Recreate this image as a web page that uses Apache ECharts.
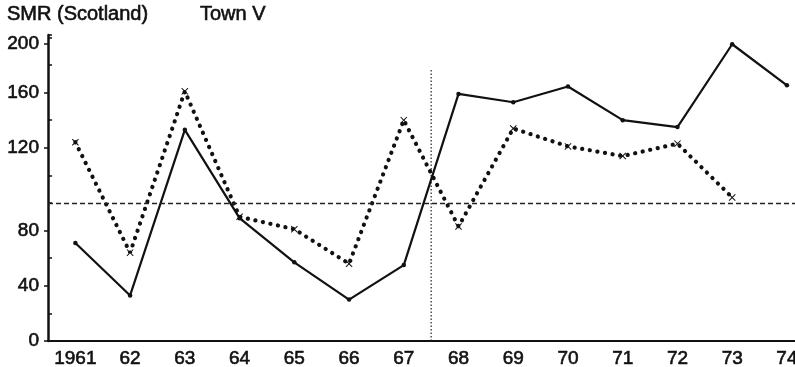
<!DOCTYPE html>
<html>
<head>
<meta charset="utf-8">
<title>SMR (Scotland) – Town V</title>
<script src="https://cdn.jsdelivr.net/npm/echarts@6/dist/echarts.min.js"></script>
<style>
  html, body { margin: 0; padding: 0; background: #fff; }
  #chart { width: 795px; height: 367px; }
</style>
</head>
<body>
<div id="chart"></div>
<script>
// Years along the bottom axis
const years = ['1961', '62', '63', '64', '65', '66', '67', '68', '69', '70', '71', '72', '73', '74'];

// Standardised mortality ratios (Scotland = 100)
const smrSolid  = [71, 33, 133, 89, 57, 30, 55, 159, 153, 165, 140, 135, 200, 166];
const smrDotted = [124, 64, 161, 90, 81, 56, 140, 83, 134, 121, 117, 123, 102];

// Printed tick labels on the SMR axis
const yTickLabels = [0, 40, 80, 120, 160, 200];

// Reference level and the break between 1967 and 1968
const referenceSMR = 100;
const dividerYear = 1967.5;
const dividerTopSMR = 180;

// The printed SMR axis is not evenly graduated: these knots map an SMR
// value onto the uniform drawing scale used by the value axis.
const smrKnots  = [0, 100, 120, 160, 200];
const axisKnots = [0, 100, 140, 180, 215];
const axisStep = 20;      // spacing of the plain tick marks
const axisTop = 221.7;    // end of the drawn axis line

function toAxis(v) {
  if (v == null) return null;
  for (let i = 1; i < smrKnots.length; i++) {
    if (v <= smrKnots[i] || i === smrKnots.length - 1) {
      const t = (v - smrKnots[i - 1]) / (smrKnots[i] - smrKnots[i - 1]);
      return axisKnots[i - 1] + t * (axisKnots[i] - axisKnots[i - 1]);
    }
  }
}

const labelPositions = yTickLabels.map(toAxis);
const plainTicks = [];
for (let v = axisStep; v < axisTop; v += axisStep) {
  if (!labelPositions.some(p => Math.abs(p - v) < 1)) plainTicks.push(v);
}
plainTicks.push(axisTop);

const firstYear = 1961;
const dividerX = (dividerYear - firstYear) + 0.5;

const FONT = 'Liberation Sans, Arial, Helvetica, sans-serif';
const INK = '#111';

// Slightly heavier than regular weight, like the printed lettering
const textInk = { fontFamily: FONT, fontWeight: 'normal', color: INK,
                  textBorderColor: INK, textBorderWidth: 0.6 };

const chart = echarts.init(document.getElementById('chart'), null, { renderer: 'canvas' });

const crossPath = 'path://M0,1L1,0L5,4L9,0L10,1L6,5L10,9L9,10L5,6L1,10L0,9L4,5Z';

chart.setOption({
  animation: false,
  backgroundColor: '#fff',
  title: [
    { text: 'SMR (Scotland)', left: 7, top: 4, padding: 0,
      textStyle: Object.assign({ fontSize: 20 }, textInk) },
    { text: 'Town V', left: 200, top: 4, padding: 0,
      textStyle: Object.assign({ fontSize: 20 }, textInk) }
  ],
  grid: { left: 48, top: 35, bottom: 26, width: 766.3, containLabel: false, outerBoundsMode: 'none' },
  xAxis: [
    {
      type: 'category',
      data: years,
      boundaryGap: true,
      axisLine: { lineStyle: { color: INK, width: 2 } },
      axisTick: { inside: true, length: 4, alignWithLabel: true, lineStyle: { color: INK, width: 1.5 } },
      axisLabel: Object.assign({ fontSize: 19, margin: 8, interval: 0 }, textInk),
      splitLine: { show: false }
    },
    {
      type: 'value',
      min: 0,
      max: years.length,
      show: false
    }
  ],
  yAxis: [
    {
      type: 'value',
      min: 0,
      max: axisTop,
      axisLine: { show: true, lineStyle: { color: INK, width: 2.5 } },
      axisTick: { show: true, inside: true, length: 4, customValues: plainTicks,
                  lineStyle: { color: INK, width: 1.5 } },
      axisLabel: Object.assign({
        fontSize: 19, margin: 9,
        customValues: labelPositions,
        formatter: function (val) {
          const i = labelPositions.findIndex(p => Math.abs(p - val) < 0.01);
          return i >= 0 ? String(yTickLabels[i]) : '';
        }
      }, textInk),
      splitLine: { show: false }
    },
    {
      type: 'value',
      min: 0,
      max: axisTop,
      position: 'left',
      axisLine: { show: false },
      axisTick: { show: true, inside: false, length: 4, customValues: labelPositions,
                  lineStyle: { color: INK, width: 1.5 } },
      axisLabel: { show: false },
      splitLine: { show: false }
    }
  ],
  series: [
    {
      type: 'line',
      data: smrSolid.map(toAxis),
      symbol: 'circle',
      symbolSize: 4.5,
      showAllSymbol: true,
      itemStyle: { color: INK },
      lineStyle: { color: INK, width: 2.2 },
      markLine: {
        silent: true,
        symbol: 'none',
        label: { show: false },
        lineStyle: { color: '#222', width: 1.3, type: [5, 3] },
        data: [{ yAxis: toAxis(referenceSMR) }]
      },
      z: 3
    },
    {
      type: 'line',
      data: smrDotted.map(toAxis),
      symbol: crossPath,
      symbolSize: 7,
      showAllSymbol: true,
      itemStyle: { color: INK },
      lineStyle: { color: INK, width: 4.2, type: [0.1, 7.6], cap: 'round' },
      z: 4
    },
    {
      type: 'line',
      xAxisIndex: 1,
      data: [[dividerX, 0], [dividerX, toAxis(dividerTopSMR)]],
      symbol: 'none',
      lineStyle: { color: '#222', width: 1.2, type: [1.5, 2] },
      z: 2
    }
  ]
});
</script>
</body>
</html>
